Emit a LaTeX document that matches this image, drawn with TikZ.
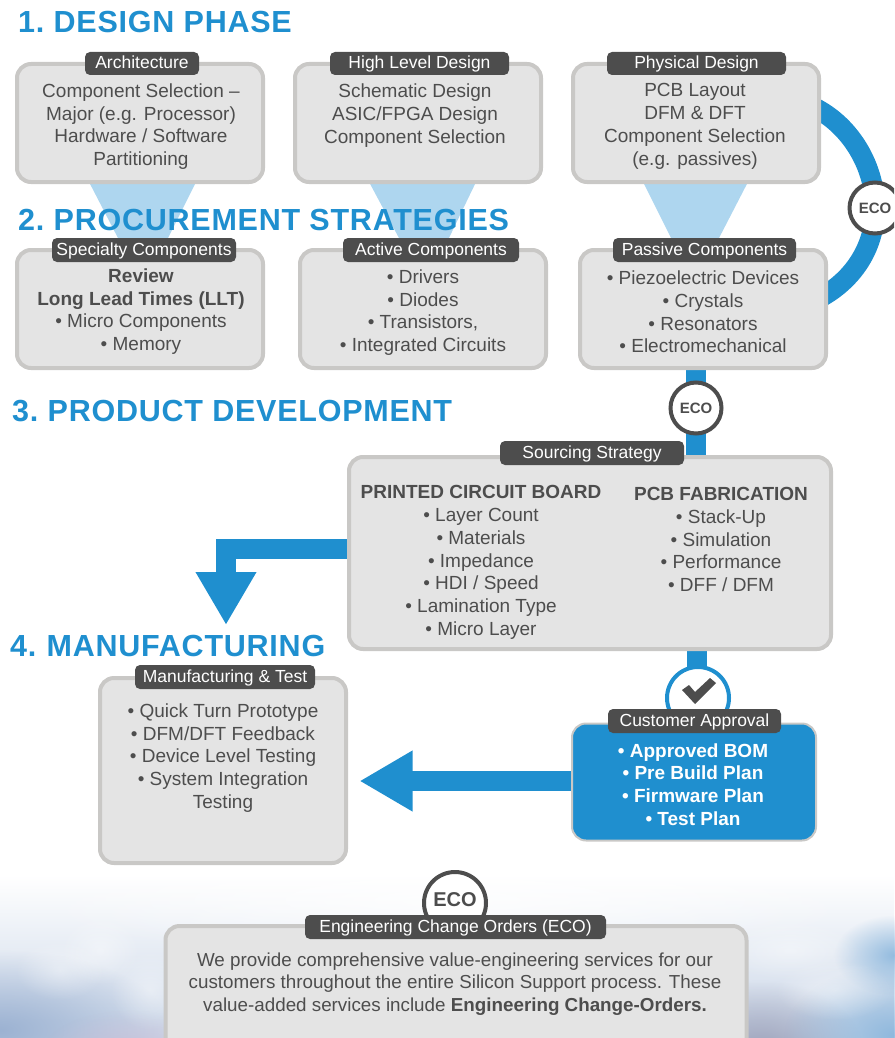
\documentclass[tikz,border=0pt]{standalone}
\usepackage{fontspec}
\setmainfont{Liberation Sans}
\usetikzlibrary{arrows.meta,fadings,calc}
\definecolor{ink}{HTML}{4D4D4D}
\definecolor{edge}{HTML}{C9C8C6}
\definecolor{panel}{HTML}{E4E4E4}
\definecolor{brand}{HTML}{1F8FCF}
\definecolor{pale}{HTML}{AED6EF}
\definecolor{hazeA}{HTML}{8FA8CC}
\definecolor{hazeB}{HTML}{8C8FAA}
\definecolor{hazeC}{HTML}{7FB0DA}
\definecolor{hazeL}{HTML}{C8BCD6}
\definecolor{hazeMid}{HTML}{EDF1F8}
\definecolor{hazeLow}{HTML}{CFDAEA}
\newfontfamily\headfont[LetterSpace=2.5]{Liberation Sans Bold}
\tikzfading[name=softblob,inner color=transparent!20,outer color=transparent!100]
\tikzfading[name=faintblob,inner color=transparent!60,outer color=transparent!100]
\pgfdeclarelayer{back}
\pgfsetlayers{back,main}
\tikzset{
  x=1pt,y=-1pt,
  card/.style={draw=edge,line width=4pt,fill=panel,rounded corners=14pt},
  bluecard/.style={draw=edge,line width=2pt,fill=brand,rounded corners=14pt},
  tabel/.style={fill=ink,text=white,rounded corners=5pt,inner sep=0pt,text height=14pt,text depth=4pt,font=\fontsize{17.5}{18}\selectfont},
  body/.style={text=ink,align=center,inner sep=0pt,font=\fontsize{19}{22.8}\selectfont},
  whitebody/.style={text=white,align=center,inner sep=0pt,font=\fontsize{19}{22.8}\selectfont\bfseries},
  head/.style={text=brand,anchor=west,inner sep=0pt,font=\fontsize{30.5}{32}\headfont},
  eco/.style={circle,draw=ink,fill=white,line width=4pt,inner sep=0pt,minimum size=51pt,text=ink,font=\fontsize{15}{16}\selectfont\bfseries},
  band/.style={draw=brand,line width=20pt},
  bigarrow/.style={draw=brand,line width=20pt,-{Triangle[length=53pt,width=57pt]}},
  funnel/.style={fill=pale,draw=none},
  blob/.style={fill=#1,path fading=softblob,draw=none},
  glow/.style={fill=white,path fading=faintblob,draw=none}
}
\begin{document}
\begin{tikzpicture}
\useasboundingbox (0,0) rectangle (894,1038);
\clip (0,0) rectangle (894,1038);

% boxes
\node[card,minimum width=246pt,minimum height=118pt] (arch) at (140,123) {};
\node[card,minimum width=246pt,minimum height=118pt] (hld) at (418,123) {};
\node[card,minimum width=246pt,minimum height=118pt] (phys) at (696,123) {};
\node[card,minimum width=246pt,minimum height=118pt] (spec) at (140,309) {};
\node[card,minimum width=246pt,minimum height=118pt] (active) at (423,309) {};
\node[card,minimum width=246pt,minimum height=118pt] (passive) at (703,309) {};
\node[card,minimum width=482pt,minimum height=192pt] (source) at (590,553) {};
\node[card,minimum width=246pt,minimum height=185pt] (mfg) at (223,770.5) {};
\node[bluecard,minimum width=244pt,minimum height=117pt] (cust) at (694,782) {};

% round badges
\node[eco] (ecoR) at (875,208) {ECO};
\node[eco] (ecoD) at (696,408) {ECO};
\node[circle,draw=brand,fill=white,line width=4pt,minimum size=62pt,inner sep=0pt] (okc) at (698,698) {};
\fill[ink] (682,690) -- (689,685) -- (695,692) -- (710,678) -- (716,683) -- (695,704) -- cycle;
\node[eco,minimum size=62pt,font=\fontsize{20}{22}\selectfont\bfseries,text depth=6pt] (ecoB) at (455,903) {ECO};
\node[card,minimum width=581pt,minimum height=160pt] (info) at (456,1006) {};

% connectors and backdrop, all behind the boxes
\coordinate (ringA) at (804,103);
\coordinate (ringB) at (804,305);
\coordinate (srcOut) at (350,549);
\coordinate (downTip) at (226,625);
\coordinate (leftTip) at (359.5,781);
\coordinate (custOut) at (600,781);
\coordinate (srcDown) at (696.5,640);
\begin{pgfonlayer}{back}
\shade[top color=white,middle color=hazeMid,bottom color=hazeLow] (0,875) rectangle (894,1020);
\fill[hazeLow] (0,1019) rectangle (894,1038);
\fill[blob=white] (447,900) ellipse[x radius=430,y radius=60];
\fill[blob=hazeA] (0,1030) ellipse[x radius=170,y radius=80];
\fill[blob=hazeL] (130,1055) ellipse[x radius=90,y radius=45];
\fill[glow] (100,950) ellipse[x radius=40,y radius=35];
\fill[glow] (60,970) ellipse[x radius=45,y radius=30];
\fill[glow] (150,990) ellipse[x radius=40,y radius=40];
\fill[blob=hazeB] (760,1055) ellipse[x radius=105,y radius=75];
\fill[blob=hazeC] (894,1035) ellipse[x radius=110,y radius=70];
\fill[blob=hazeC] (894,955) ellipse[x radius=60,y radius=40];
\fill[glow] (835,990) ellipse[x radius=60,y radius=30];
\fill[glow] (790,950) ellipse[x radius=70,y radius=30];
\fill[funnel] (88,180) -- (197,180) -- (167,240) -- (119,240) -- cycle;
\fill[funnel] (368,180) -- (477,180) -- (448,240) -- (400,240) -- cycle;
\fill[funnel] (642,180) -- (749,180) -- (718,240) -- (672,240) -- cycle;
\draw[band] (ringA) .. controls +(20:45) and +(0,-45) .. (ecoR.center) .. controls +(0,45) and +(-20:45) .. (ringB);
\draw[band] (passive.center -| ecoD) -- (source.center -| ecoD);
\draw[bigarrow] (srcOut) -| (downTip);
\draw[bigarrow] (custOut) -- (leftTip);
\draw[band] (srcDown) -- (srcDown |- okc);
\end{pgfonlayer}

% heads
\node[head] (h1) at (18,22.5) {1.\hspace{-3pt} DESIGN PHASE};
\node[head] (h2) at (18,219.5) {2.\hspace{-3pt} PROCUREMENT STRATEGIES};
\node[head] (h3) at (12,411.5) {3.\hspace{-3pt} PRODUCT DEVELOPMENT};
\node[head] (h4) at (10,645.5) {4.\hspace{-2pt} MANUFACTURING};

% tabs
\node[tabel,minimum width=114pt,minimum height=23pt] (t1) at (142,63.5) {Architecture};
\node[tabel,minimum width=179pt,minimum height=23pt] (t2) at (419.5,63.5) {High Level Design};
\node[tabel,minimum width=179pt,minimum height=23pt] (t3) at (696.5,63.5) {Physical Design};
\node[tabel,minimum width=184pt,minimum height=24pt] (t4) at (144,250) {Specialty Components};
\node[tabel,minimum width=176pt,minimum height=24pt] (t5) at (431,250) {Active Components};
\node[tabel,minimum width=183pt,minimum height=24pt] (t6) at (704.5,250) {Passive Components};
\node[tabel,minimum width=184pt,minimum height=24pt] (t7) at (592,453) {Sourcing Strategy};
\node[tabel,minimum width=180pt,minimum height=24pt] (t8) at (225,677) {Manufacturing \& Test};
\node[tabel,minimum width=173pt,minimum height=24pt] (t9) at (694.5,721) {Customer Approval};
\node[tabel,minimum width=301pt,minimum height=24pt] (t10) at (455.5,927) {Engineering Change Orders (ECO)};

% text
\node[body] (b1) at (141,126.5) {Component Selection –\\Major (e.g. Processor)\\Hardware / Software\\Partitioning};
\node[body] (b2) at (415,115.5) {Schematic Design\\ASIC/FPGA Design\\Component Selection};
\node[body] (b3) at (695,126.5) {PCB Layout\\DFM \& DFT\\Component Selection\\(e.g. passives)};
\node[body] (b4) at (141,311.5) {\textbf{Review}\\\textbf{Long Lead Times (LLT)}\\• Micro Components\\• Memory};
\node[body] (b5) at (423,312.5) {• Drivers\\• Diodes\\• Transistors,\\• Integrated Circuits};
\node[body] (b6) at (703,312) {• Piezoelectric Devices\\• Crystals\\• Resonators\\• Electromechanical};
\node[body] (b7) at (481,562.5) {\textbf{PRINTED CIRCUIT BOARD}\\• Layer Count\\• Materials\\• Impedance\\• HDI / Speed\\• Lamination Type\\• Micro Layer};
\node[body] (b8) at (721,539.5) {\textbf{PCB FABRICATION}\\• Stack-Up\\• Simulation\\• Performance\\• DFF / DFM};
\node[body] (b9) at (223,758) {• Quick Turn Prototype\\• DFM/DFT Feedback\\• Device Level Testing\\• System Integration\\Testing};
\node[whitebody] (b10) at (693,784.5) {• Approved BOM\\• Pre Build Plan\\• Firmware Plan\\• Test Plan};
\node[body,font=\fontsize{18.8}{22.8}\selectfont] (b11) at (455,984) {We provide comprehensive value-engineering services for our\\customers throughout the entire Silicon Support process. These\\value-added services include \textbf{Engineering Change-Orders.}};
\end{tikzpicture}
\end{document}
